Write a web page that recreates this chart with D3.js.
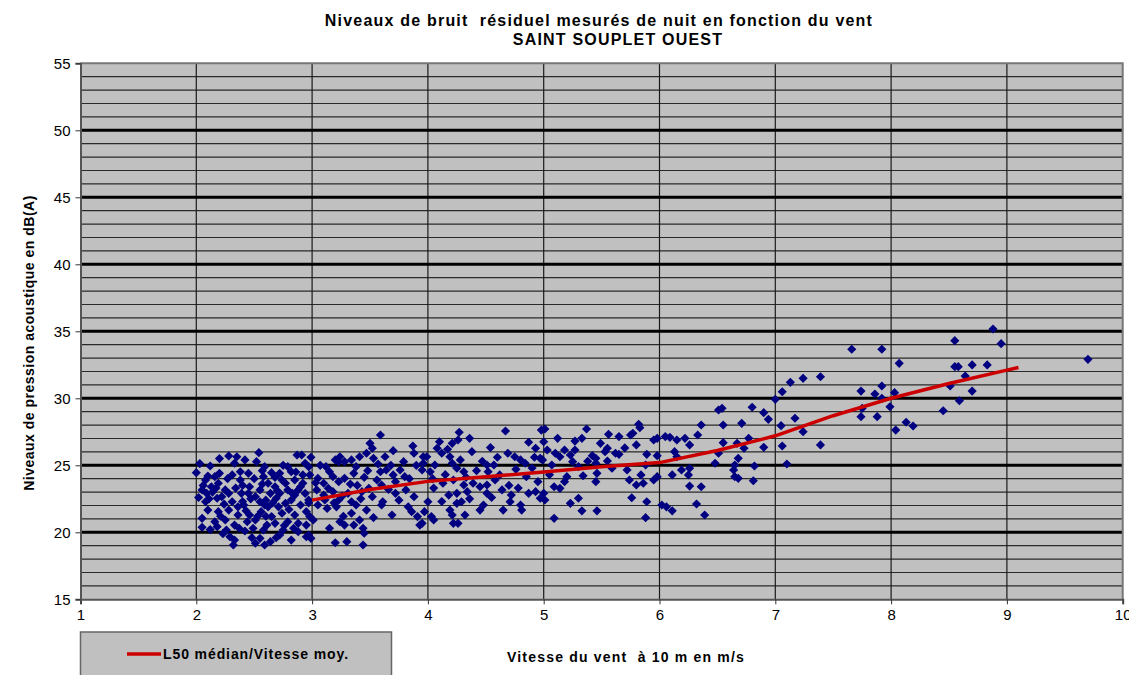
<!DOCTYPE html>
<html>
<head>
<meta charset="utf-8">
<script src="https://cdn.jsdelivr.net/npm/d3@7"></script>
<style>
  body { margin: 0; background: #fff; }
  text { font-family: "Liberation Sans", Arial, sans-serif; white-space: pre; }
</style>
</head>
<body>
<div id="chart-area"></div>
<script>
// titres
let titleLines = ["Niveaux de bruit  résiduel mesurés de nuit en fonction du vent", "SAINT SOUPLET OUEST"];
let xLabel = "Vitesse du vent  à 10 m en m/s";
let yLabel = "Niveaux de pression acoustique en dB(A)";
let legendLabel = "L50 médian/Vitesse moy.";

let xTicks = [1, 2, 3, 4, 5, 6, 7, 8, 9, 10];
let yTicks = [15, 20, 25, 30, 35, 40, 45, 50, 55];

// courbe L50 médian
let medianX = [3.0, 3.5, 4.0, 4.5, 5.0, 5.5, 6.0, 6.5, 7.0, 7.5, 8.0, 8.5, 9.0, 9.1];
let medianY = [22.4, 23.2, 23.8, 24.15, 24.5, 24.9, 25.2, 26.1, 27.2, 28.7, 30.0, 31.1, 32.1, 32.3];

// mesures [vitesse, dB(A)]
let mesures = [
  [2.03,25.13],[2.0,24.45],[2.12,24.95],[2.2,25.5],[2.28,25.7],[2.35,25.64],[2.33,25.15],[2.42,25.4],[2.54,25.94],[2.52,25.27],
  [2.59,24.9],[2.65,24.45],[2.72,24.4],[2.82,24.52],[2.87,25.77],[2.91,25.77],[2.92,24.28],[2.08,23.9],[2.16,24.15],[2.05,23.16],
  [2.13,23.4],[2.19,23.66],[2.25,23.16],[2.38,23.9],[2.45,24.4],[2.46,23.4],[2.58,24.15],[2.62,23.66],[2.68,23.4],[2.77,23.66],
  [2.85,23.9],[2.88,23.16],[2.94,22.9],[2.08,22.28],[2.18,22.54],[2.31,22.28],[2.41,22.04],[2.51,22.66],[2.55,22.28],[2.62,21.9],
  [2.69,22.54],[2.77,22.16],[2.82,22.41],[2.9,22.04],[2.1,21.66],[2.19,21.54],[2.28,21.66],[2.36,21.29],[2.46,21.29],[2.56,21.54],
  [2.65,21.17],[2.74,21.42],[2.85,21.29],[2.95,21.54],[2.05,21.04],[2.16,20.79],[2.25,20.92],[2.33,20.54],[2.44,20.79],[2.51,20.92],
  [2.61,20.54],[2.68,20.67],[2.79,20.79],[2.88,20.67],[2.05,20.37],[2.18,20.42],[2.26,20.17],[2.49,20.3],[2.58,20.17],[2.29,19.67],
  [2.33,19.42],[2.32,19.05],[2.51,19.18],[2.55,19.55],[2.59,19.05],[2.72,19.8],[2.75,20.17],[2.82,19.42],[2.88,20.05],[2.95,19.67],
  [2.09,22.91],[2.22,22.66],[2.28,22.91],[2.39,22.91],[2.45,22.91],[2.55,23.16],[2.64,22.91],[2.72,22.91],[2.79,23.16],[2.36,21.9],
  [2.71,21.9],[2.59,22.04],[2.85,22.78],[2.92,23.66],[2.94,25.15],[2.79,24.9],[2.38,24.52],[2.31,24.28],
  [2.1,24.2],[2.14,23.0],[2.24,22.1],[2.4,23.5],[2.5,24.0],[2.6,22.4],[2.7,23.1],[2.8,21.7],[2.86,24.5],[2.68,24.1],
  [2.47,22.5],[2.34,23.3],[2.21,21.2],[2.12,20.2],[2.42,20.1],[2.64,19.3],[2.76,20.5],[2.97,22.2],[2.53,21.2],[2.02,22.6],
  [2.06,23.5],[2.11,22.5],[2.17,23.3],[2.27,24.0],[2.43,21.6],[2.57,23.6],[2.66,22.2],[2.74,23.9],[2.83,22.9],[2.9,23.4],
  [2.23,19.9],[2.37,20.3],[2.48,19.6],[2.69,19.6],[2.84,20.3],[2.6,21.2],[2.4,22.3],[2.2,24.4],[2.57,24.6],[2.75,25.0],
  // 3 - 4 m/s
  [3.59,27.26],[3.5,26.64],[3.52,26.27],[3.47,25.9],[3.63,25.64],[3.7,26.09],[3.87,26.44],[3.88,25.9],[3.96,25.64],[3.24,25.64],
  [3.23,25.27],[3.28,25.27],[3.34,25.4],[3.41,25.64],[3.53,25.52],[2.99,25.6],[2.97,24.9],[2.98,24.28],[3.05,24.03],[3.15,24.52],
  [3.18,24.15],[3.1,23.66],[3.14,23.28],[3.23,23.78],[3.28,24.03],[3.36,24.4],[3.38,24.9],[3.59,24.52],[3.64,24.65],[3.7,24.28],
  [3.76,24.65],[3.79,25.27],[3.8,24.15],[3.95,24.65],[3.72,23.78],[3.6,23.53],[3.49,23.28],[3.52,22.66],[3.43,23.03],[3.31,22.91],
  [3.34,22.28],[3.23,22.41],[3.11,22.41],[3.05,22.04],[2.97,22.41],[2.98,21.17],[3.01,20.92],[2.95,20.54],[2.97,19.8],[2.99,19.55],
  [3.13,21.78],[3.21,21.9],[3.34,21.42],[3.38,22.04],[3.47,21.66],[3.6,22.04],[3.61,22.28],[3.69,21.29],[3.83,21.9],[3.86,21.54],
  [3.91,21.17],[3.93,20.54],[3.88,22.66],[3.81,23.16],[3.72,22.91],[3.15,20.3],[3.24,20.79],[3.28,20.54],[3.36,20.54],[3.41,20.92],
  [3.44,20.3],[3.45,19.93],[3.2,19.22],[3.3,19.3],[3.44,19.05],[3.04,23.16],[3.1,22.78],[3.18,23.03],
  [3.07,25.0],[3.33,23.6],[3.56,23.9],[3.66,23.2],[3.84,24.0],[3.45,24.1],[3.19,22.2],[3.53,21.1],[3.75,22.4],[3.27,21.2],
  [3.12,24.9],[3.2,25.4],[3.39,23.5],[3.48,24.6],[3.57,25.1],[3.68,25.0],[3.9,25.0],[3.42,22.5],[3.03,23.7],[3.26,22.7],
  // 4 - 5 m/s
  [4.67,27.56],[4.98,27.63],[4.27,27.46],[4.36,27.01],[4.26,26.89],[4.21,26.64],[4.1,26.76],[4.08,26.27],[4.12,25.9],[4.19,25.64],
  [4.38,26.02],[4.54,26.32],[4.69,25.9],[4.75,25.64],[4.8,25.4],[4.84,25.15],[4.87,26.72],[4.93,26.27],[4.97,25.52],[3.99,25.64],
  [3.96,25.15],[4.06,25.02],[4.02,24.52],[4.21,25.15],[4.25,24.78],[4.31,24.52],[4.51,25.02],[4.57,25.02],[4.52,24.52],[4.62,24.28],
  [4.85,24.15],[4.95,23.78],[4.13,23.66],[4.22,23.9],[4.31,23.53],[4.39,23.66],[4.45,23.4],[4.51,23.53],[4.64,23.16],[4.72,22.78],
  [4.87,22.91],[4.93,23.03],[4.97,22.54],[4.18,22.78],[4.25,22.91],[4.34,23.03],[4.51,22.91],[4.0,22.28],[4.25,22.16],[4.29,22.28],
  [4.48,22.04],[4.71,22.28],[4.8,22.04],[4.81,21.66],[4.65,21.66],[4.45,21.66],[4.19,21.66],[3.97,21.54],[4.03,21.17],[4.05,20.92],
  [4.21,21.29],[4.32,21.29],[4.22,20.67],[4.26,20.67],[3.95,20.67],
  [4.42,24.6],[4.58,23.9],[4.76,24.7],[4.15,24.3],[4.05,23.3],[4.6,25.6],[4.9,24.8],[4.36,22.5],[4.7,23.5],[4.12,22.3],
  [4.04,24.0],[4.28,25.4],[4.47,25.3],[4.33,24.1],[4.55,22.6],[4.78,23.3],[4.92,25.6],[4.17,26.2],
  // 5 - 6 m/s
  [5.37,27.71],[5.82,28.06],[5.83,27.81],[5.77,27.39],[5.75,27.26],[5.56,27.31],[5.65,27.14],[5.01,27.71],[5.12,27.01],[5.33,27.01],
  [5.27,26.81],[5.0,26.76],[5.49,26.64],[5.8,26.52],[5.95,26.89],[5.98,27.01],[6.05,27.14],[5.03,26.14],[5.1,25.9],[5.18,26.14],
  [5.23,25.77],[5.27,26.14],[5.55,26.27],[5.53,26.02],[5.65,25.82],[5.42,25.72],[5.45,25.52],[5.25,25.27],[5.14,25.64],[5.89,25.82],
  [5.98,25.72],[4.99,25.4],[5.07,25.02],[5.45,25.15],[5.55,25.32],[5.59,24.78],[5.72,24.65],[5.88,25.02],[5.2,24.15],[5.18,23.78],
  [5.34,24.22],[5.46,24.4],[5.45,23.78],[5.74,23.9],[5.84,24.28],[5.8,23.53],[5.86,23.66],[5.95,23.9],[5.98,24.15],[5.09,23.4],
  [5.14,23.28],[5.0,22.91],[5.01,22.41],[5.23,22.16],[5.3,22.54],[5.33,21.6],[5.46,21.6],[5.76,22.58],[5.89,22.28],[5.09,21.04],
  [5.88,21.09],[6.02,22.04],[6.06,21.9],
  [5.38,25.3],[5.62,25.9],[5.7,26.3],[5.3,24.9],[5.05,24.3],
  // 6 - 7 m/s
  [6.51,29.13],[6.54,29.25],[6.8,29.33],[6.9,28.93],[6.94,28.43],[6.36,28.01],[6.55,28.01],[6.71,28.13],[6.33,27.26],[6.26,26.52],
  [6.22,27.01],[6.15,26.89],[6.09,27.09],[6.55,26.69],[6.67,26.64],[6.77,27.01],[6.73,26.27],[6.9,26.34],[6.51,25.9],[6.13,26.02],
  [6.15,25.64],[6.68,25.52],[6.65,25.02],[6.48,25.15],[6.82,24.95],[6.64,24.65],[6.19,24.65],[6.26,24.78],[6.25,24.28],[6.11,24.28],
  [6.65,24.15],[6.68,24.03],[6.81,23.85],[6.26,23.45],[6.36,23.4],[6.11,21.6],[6.32,22.11],[6.39,21.29],
  // 7 - 10 m/s
  [7.66,33.66],[7.92,33.66],[8.88,35.17],[8.95,34.08],[8.55,34.3],[9.7,32.91],[8.07,32.61],[7.39,31.61],[7.24,31.49],[7.13,31.19],
  [7.06,30.49],[7.0,29.92],[7.05,27.96],[7.17,28.51],[7.24,27.51],[7.06,26.44],[7.1,25.1],[7.39,26.52],[7.74,30.54],[7.75,29.25],
  [7.74,28.63],[7.86,30.32],[7.92,30.92],[7.92,30.0],[7.88,28.63],[7.99,29.37],[8.03,30.42],[8.04,27.63],[8.13,28.21],[8.19,27.93],
  [8.45,29.07],[8.51,30.92],[8.55,32.36],[8.58,32.36],[8.64,31.66],[8.59,29.82],[8.7,32.49],[8.7,30.54],[8.83,32.49]
];

let svgW = 1129, svgH = 675;
let plot = { left: 80.5, right: 1122.7, top: 63.3, bottom: 599.3 };

let svg = d3
  .select("#chart-area")
  .append("svg")
  .attr("width", svgW)
  .attr("height", svgH);

let xScale = d3.scaleLinear().domain([1, 10]).range([plot.left, plot.right]);
let yScale = d3.scaleLinear().domain([15, 55]).range([plot.bottom, plot.top]);

// fond gris
svg.append("rect")
  .attr("x", plot.left)
  .attr("y", plot.top)
  .attr("width", plot.right - plot.left)
  .attr("height", plot.bottom - plot.top)
  .attr("fill", "#c0c0c0");

// grille secondaire (1 dB)
svg.append("g")
  .selectAll("line")
  .data(d3.range(16, 55))
  .enter()
  .append("line")
  .attr("x1", plot.left)
  .attr("x2", plot.right)
  .attr("y1", d => yScale(d))
  .attr("y2", d => yScale(d))
  .attr("stroke", "#2a2a2a")
  .attr("stroke-width", 1.2);

// verticales
svg.append("g")
  .selectAll("line")
  .data(xTicks.slice(1, -1))
  .enter()
  .append("line")
  .attr("x1", d => xScale(d))
  .attr("x2", d => xScale(d))
  .attr("y1", plot.top)
  .attr("y2", plot.bottom)
  .attr("stroke", "#1a1a1a")
  .attr("stroke-width", 1.2);

// grille principale (5 dB)
svg.append("g")
  .selectAll("line")
  .data(yTicks.slice(1, -1))
  .enter()
  .append("line")
  .attr("x1", plot.left)
  .attr("x2", plot.right)
  .attr("y1", d => yScale(d))
  .attr("y2", d => yScale(d))
  .attr("stroke", "#000")
  .attr("stroke-width", 3);

// bord haut et droit
svg.append("path")
  .attr("d", "M" + plot.left + "," + plot.top + "H" + plot.right + "V" + plot.bottom)
  .attr("fill", "none")
  .attr("stroke", "#777")
  .attr("stroke-width", 2);

// points
let diamond = d3.symbol().type(d3.symbolSquare).size(42);
svg.append("g")
  .selectAll("path")
  .data(mesures)
  .enter()
  .append("path")
  .attr("d", diamond)
  .attr("transform", d => "translate(" + xScale(d[0]) + "," + yScale(d[1]) + ") rotate(45)")
  .attr("fill", "#000080");

// courbe L50
let line = d3.line()
  .x(d => xScale(d[0]))
  .y(d => yScale(d[1]));

svg.append("path")
  .datum(d3.zip(medianX, medianY))
  .attr("d", line)
  .attr("fill", "none")
  .attr("stroke", "#cc0000")
  .attr("stroke-width", 3.5)
  .attr("stroke-linejoin", "round");

// axes
let xAxis = d3.axisBottom(xScale).tickValues(xTicks).tickSize(5).tickPadding(5).tickFormat(d3.format("d"));
let yAxis = d3.axisLeft(yScale).tickValues(yTicks).tickSize(5).tickPadding(5).tickFormat(d3.format("d"));

let gx = svg.append("g")
  .attr("transform", "translate(0," + plot.bottom + ")")
  .call(xAxis);
let gy = svg.append("g")
  .attr("transform", "translate(" + plot.left + ",0)")
  .call(yAxis);

[gx, gy].forEach(g => {
  g.select(".domain").attr("stroke", "#555").attr("stroke-width", 2);
  g.selectAll(".tick line").attr("stroke", "#333");
  g.selectAll("text")
    .attr("font-family", "Liberation Sans, Arial, sans-serif")
    .attr("font-size", 15)
    .attr("fill", "#000");
});

// titre
let titleX = [599, 618];
svg.append("g")
  .selectAll("text")
  .data(titleLines)
  .enter()
  .append("text")
  .attr("x", (d, i) => titleX[i])
  .attr("y", (d, i) => 26 + i * 19)
  .attr("text-anchor", "middle")
  .attr("font-size", 16)
  .attr("font-weight", "bold")
  .attr("letter-spacing", 1.2)
  .text(d => d);

// titres des axes
svg.append("text")
  .attr("transform", "translate(34,343) rotate(-90)")
  .attr("text-anchor", "middle")
  .attr("font-size", 14)
  .attr("font-weight", "bold")
  .attr("letter-spacing", 0.5)
  .text(yLabel);

svg.append("text")
  .attr("x", 507)
  .attr("y", 662)
  .attr("font-size", 14)
  .attr("font-weight", "bold")
  .attr("letter-spacing", 1.2)
  .text(xLabel);

// légende
svg.append("rect")
  .attr("x", 80.5)
  .attr("y", 632)
  .attr("width", 311)
  .attr("height", 50)
  .attr("fill", "#c0c0c0")
  .attr("stroke", "#666")
  .attr("stroke-width", 1.5);

svg.append("line")
  .attr("x1", 127)
  .attr("x2", 161)
  .attr("y1", 654)
  .attr("y2", 654)
  .attr("stroke", "#cc0000")
  .attr("stroke-width", 3.5);

svg.append("text")
  .attr("x", 163)
  .attr("y", 659)
  .attr("font-size", 14)
  .attr("font-weight", "bold")
  .attr("letter-spacing", 0.9)
  .text(legendLabel);
</script>
</body>
</html>
